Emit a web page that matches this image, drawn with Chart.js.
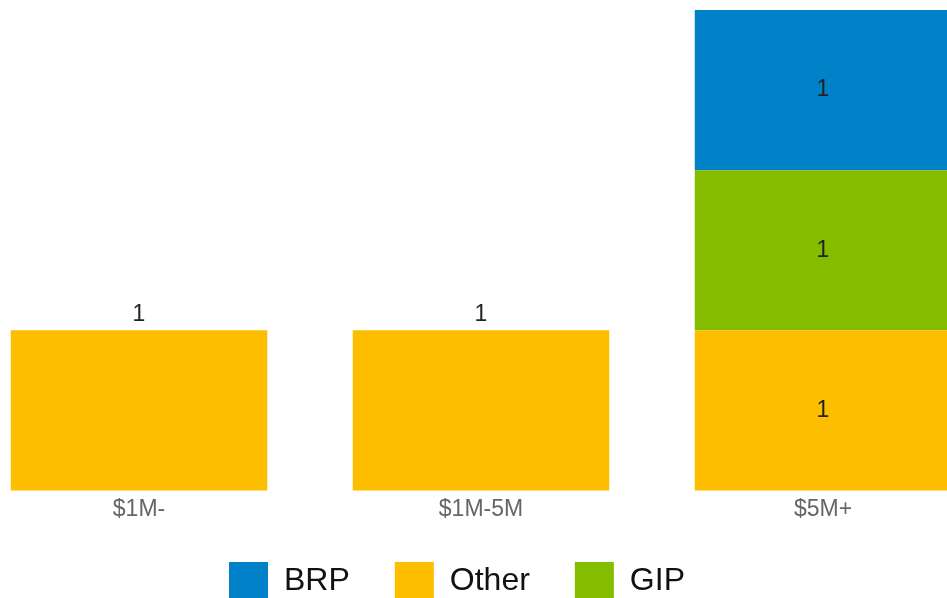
<!DOCTYPE html>
<html>
<head>
<meta charset="utf-8">
<script src="https://cdn.jsdelivr.net/npm/chart.js@4"></script>
<style>
  html, body { margin: 0; padding: 0; background: #fff; overflow: hidden; }
  #wrap { width: 947px; height: 614px; position: relative; }
</style>
</head>
<body>
<div id="wrap"><canvas id="chart"></canvas></div>
<script>
const categories = ['$1M-', '$1M-5M', '$5M+'];
const otherValues = [1, 1, 1];
const gipValues = [0, 0, 1];
const brpValues = [0, 0, 1];
const legendOrder = ['BRP', 'Other', 'GIP'];

const FONT = '"Liberation Sans", Arial, sans-serif';

// value labels: centered in a stack, above the bar when it is a single segment
const valueLabels = {
    id: 'valueLabels',
    afterDatasetsDraw(chart) {
        const ctx = chart.ctx;
        ctx.save();
        ctx.font = '23px ' + FONT;
        ctx.fillStyle = '#222';
        ctx.textAlign = 'center';
        chart.data.datasets.forEach((ds, di) => {
            const meta = chart.getDatasetMeta(di);
            meta.data.forEach((bar, i) => {
                const v = ds.data[i];
                if (!v) return;
                const count = chart.data.datasets.filter(d => d.data[i]).length;
                if (count > 1) {
                    ctx.textBaseline = 'middle';
                    ctx.fillText(v, bar.x, (bar.y + bar.base) / 2);
                } else {
                    ctx.textBaseline = 'bottom';
                    ctx.fillText(v, bar.x, bar.y - 4);
                }
            });
        });
        ctx.restore();
    }
};

// nudge the legend a little, the original isn't centred on the canvas
const legendShift = {
    id: 'legendShift',
    afterLayout(chart) {
        const lg = chart.legend;
        lg.left -= 24;
        lg.right -= 24;
        lg.top -= 3;
        lg.bottom -= 3;
    }
};

new Chart(document.getElementById('chart').getContext('2d'), {
    type: 'bar',
    data: {
        labels: categories,
        datasets: [
            { label: 'Other', data: otherValues, backgroundColor: '#FDBE00' },
            { label: 'GIP', data: gipValues, backgroundColor: '#84BC00' },
            { label: 'BRP', data: brpValues, backgroundColor: '#0081C8' }
        ]
    },
    options: {
        responsive: true,
        maintainAspectRatio: false,
        animation: false,
        layout: { padding: { left: 139, right: 124, top: 10, bottom: 0 } },
        datasets: { bar: { categoryPercentage: 1, barPercentage: 0.75, borderWidth: 0, clip: false } },
        scales: {
            x: {
                stacked: true,
                offset: false,
                grid: { display: false },
                border: { display: false },
                ticks: {
                    color: '#666',
                    padding: -3,
                    autoSkip: false,
                    maxRotation: 0,
                    font: { size: 23, family: FONT }
                }
            },
            y: {
                stacked: true,
                display: false,
                min: 0,
                max: 3
            }
        },
        plugins: {
            legend: {
                position: 'bottom',
                labels: {
                    boxWidth: 39,
                    boxHeight: 39,
                    padding: 45,
                    color: '#111',
                    font: { size: 32, family: FONT },
                    sort: (a, b) => legendOrder.indexOf(a.text) - legendOrder.indexOf(b.text)
                }
            },
            tooltip: { enabled: false }
        }
    },
    plugins: [valueLabels, legendShift]
});
</script>
</body>
</html>
